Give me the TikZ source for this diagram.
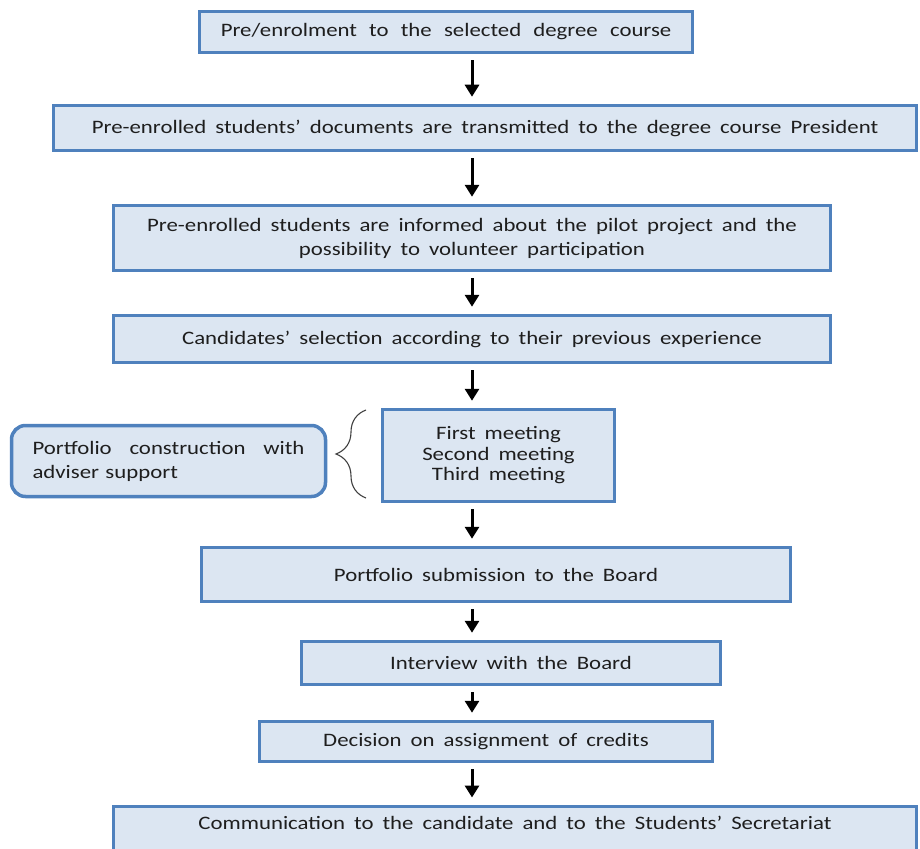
\documentclass[tikz,border=0pt]{standalone}
\usepackage{fontspec}
\setmainfont{Carlito}[FakeStretch=1.2,WordSpace=1.75]
\usepackage{tikz}
\usetikzlibrary{arrows.meta,positioning}
\usetikzlibrary{decorations.pathreplacing}

\definecolor{boxblue}{HTML}{4F81BD}
\definecolor{boxfill}{HTML}{DCE6F2}
\definecolor{inkgray}{HTML}{1E1E1E}

\tikzset{
	stepbox/.style={rectangle,draw=boxblue,line width=3.5pt,fill=boxfill,
		inner sep=4pt,text=inkgray,font=\fontsize{19}{24}\selectfont},
	sidebox/.style={stepbox,rounded corners=14pt},
	flow/.style={-{Triangle[length=12pt,width=14pt]},line width=3pt,
		shorten <=6pt,shorten >=7pt},
	bracket/.style={decorate,decoration={brace,amplitude=30pt},
		line width=1.1pt,draw=black!75}
}

\begin{document}
\begin{tikzpicture}[x=1pt,y=1pt]
	\useasboundingbox (0,0) rectangle (920,-848);
	\clip (0,0) rectangle (920,-848);
	
	\node[stepbox,minimum width=493,minimum height=41] (pre) at (446,-32)
		{Pre/enrolment\, to\, the\, selected\, degree\, course};
	\node[stepbox,minimum width=863,minimum height=45] (docs) at (485,-128)
		{Pre-enrolled students’ documents are transmitted to the degree course President};
	\node[stepbox,minimum width=717,minimum height=65,align=center] (info) at (472,-238)
		{Pre-enrolled students are informed about the pilot project and the\\
		 possibility to volunteer participation};
	\node[stepbox,minimum width=717,minimum height=47] (select) at (472,-339)
		{Candidates’ selection according to their previous experience};
	\node[stepbox,minimum width=232,minimum height=92,align=center,
		font=\fontsize{19}{20.5}\selectfont] (meet) at (498.5,-455.5)
		{First meeting\\Second meeting\\Third meeting};
	\node[sidebox,minimum width=314,minimum height=71,text width=272,
		align=left] (build) at (168.5,-461)
		{Portfolio\hfill construction\hfill with\\adviser support};
	\node[stepbox,minimum width=589,minimum height=54] (submit) at (496,-574.5)
		{Portfolio submission to the Board};
	\node[stepbox,minimum width=419,minimum height=43] (talk) at (511,-663)
		{Interview with the Board};
	\node[stepbox,minimum width=453,minimum height=40] (credit) at (486,-741.5)
		{Decision on assignment of credits};
	\node[stepbox,minimum width=803,anchor=north,text height=14pt,text depth=60pt,
		inner ysep=9pt] (notify) at (515,-804.5)
		{Communication to the candidate and to the Students’ Secretariat};
	
	\coordinate (axis) at (472,0);
	\foreach \from/\to in {pre/docs,docs/info,info/select,select/meet,
		meet/submit,submit/talk,talk/credit,credit/notify}
	\draw[flow] (\from.south -| axis) -- (\to.north -| axis);
	
	\draw[bracket] (366,-498) -- (366,-410);
	
\end{tikzpicture}
\end{document}
